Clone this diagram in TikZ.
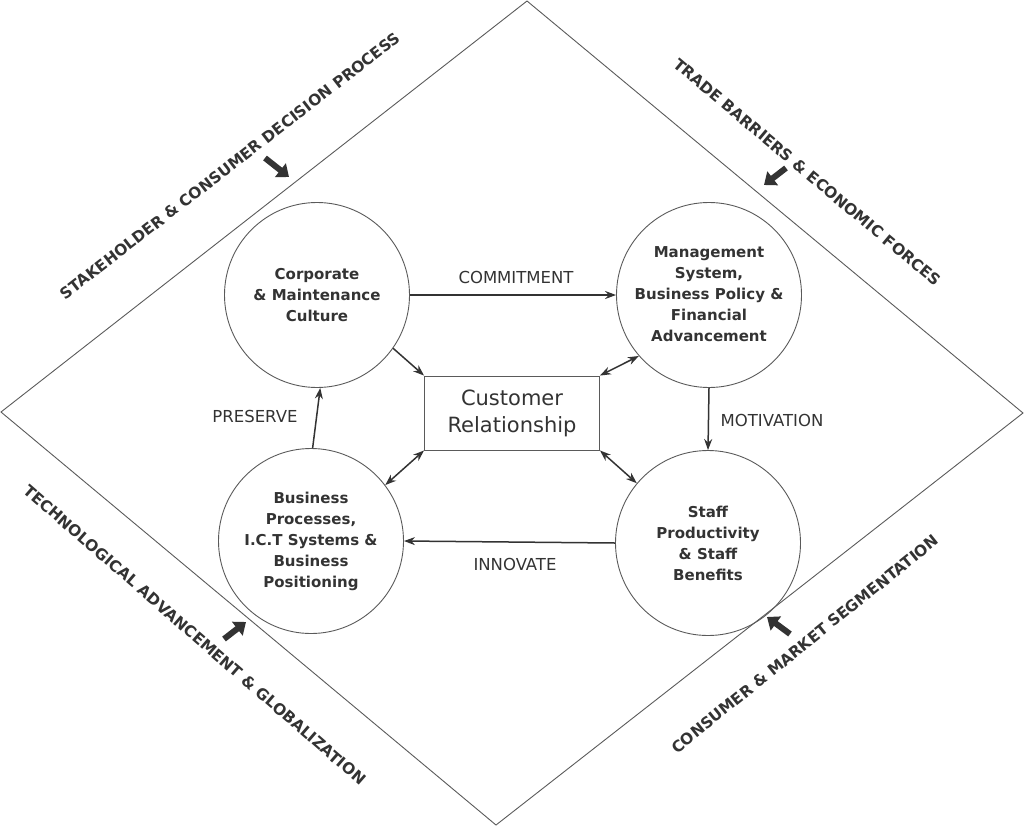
\documentclass[tikz,border=0pt]{standalone}
\usepackage{fontspec}
\setmainfont{DejaVu Sans}
\usetikzlibrary{arrows.meta}
\definecolor{ink}{HTML}{333333}
\definecolor{rim}{HTML}{5A5A5A}
\tikzset{
  hub/.style={circle, draw=rim, line width=0.9pt, minimum size=185pt, inner sep=0pt,
    align=center, text=ink, font=\fontsize{15}{21}\selectfont\bfseries},
  corebox/.style={rectangle, draw=rim, line width=0.9pt, minimum width=175pt, minimum height=74pt,
    align=center, text=ink, font=\fontsize{21}{27}\selectfont},
  flowlabel/.style={text=ink, font=\fontsize{16.5}{20}\selectfont},
  edgelabel/.style={text=ink, font=\fontsize{15.5}{19}\selectfont\bfseries},
  link/.style={draw=ink, line width=1.5pt, -{Stealth[length=11pt,width=8pt]}},
  duplex/.style={draw=ink, line width=1.5pt, {Stealth[length=11pt,width=8pt]}-{Stealth[length=11pt,width=8pt]}},
  pusher/.style={draw=ink, line width=6pt, -{Triangle[length=11pt,width=17pt]}},
}
\begin{document}
\begin{tikzpicture}[x=1pt, y=-1pt]
\useasboundingbox (0,0) rectangle (1024,827);

% outer diamond
\draw[rim, line width=0.9pt] (527,1) -- (1023,413) -- (496,825) -- (1,412) -- cycle;

% four drivers and the core
\node[hub] (cm) at (317,295) {Corporate\\\& Maintenance\\Culture};
\node[hub] (ms) at (709,295) {\raisebox{-5pt}{\begin{tabular}{@{}c@{}}Management\\System,\\Business Policy \&\\Financial\\Advancement\end{tabular}}};
\node[hub] (bp) at (311,541) {Business\\Processes,\\I.C.T Systems \&\\Business\\Positioning};
\node[hub] (sp) at (708,543) {Staff\\Productivity\\\& Staff\\Benefits};
\node[corebox] (cr) at (512,413) {Customer\\Relationship};

% cycle between the drivers
\draw[link] (cm.east) -- (ms.west);
\draw[link] (ms.south) -- (sp.north);
\draw[link] (sp.west) -- (bp.east);
\draw[link] (bp.89) -- (cm.-88);

\node[flowlabel] (lcommit) at (516,277) {COMMITMENT};
\node[flowlabel] (lmotiv) at (772,420) {MOTIVATION};
\node[flowlabel] (linnov) at (515,564) {INNOVATE};
\node[flowlabel] (lpres) at (255,416) {PRESERVE};

% links to the core
\draw[link] (cm.-35) -- (cr.north west);
\draw[duplex] (cr.north east) -- (ms.221);
\draw[duplex] (cr.south west) -- (bp.37.6);
\draw[duplex] (cr.south east) -- (sp.140.5);

% forces acting on the diamond
\node[edgelabel, rotate=37.7] (tstake) at (230,166) {STAKEHOLDER \& CONSUMER DECISION PROCESS};
\node[edgelabel, rotate=-40] (ttrade) at (807,172) {TRADE BARRIERS \& ECONOMIC FORCES};
\node[edgelabel, rotate=-41] (ttech) at (195,635) {TECHNOLOGICAL ADVANCEMENT \& GLOBALIZATION};
\node[edgelabel, rotate=38.8] (tcons) at (805,644) {CONSUMER \& MARKET SEGMENTATION};

\coordinate (p1a) at (265,158); \coordinate (p1b) at (289,177);
\coordinate (p2a) at (786,168); \coordinate (p2b) at (764,185);
\coordinate (p3a) at (224,639); \coordinate (p3b) at (246,622);
\coordinate (p4a) at (790,634); \coordinate (p4b) at (767,617);
\draw[pusher] (p1a) -- (p1b);
\draw[pusher] (p2a) -- (p2b);
\draw[pusher] (p3a) -- (p3b);
\draw[pusher] (p4a) -- (p4b);
\end{tikzpicture}
\end{document}
